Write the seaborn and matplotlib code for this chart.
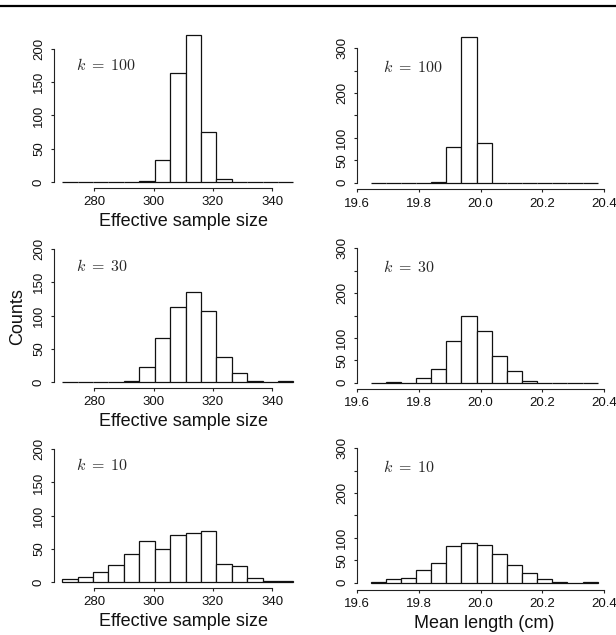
import numpy as np
import matplotlib
matplotlib.use('Agg')
import matplotlib.pyplot as plt
import seaborn as sns
from matplotlib.lines import Line2D

# ---- data: counts per histogram bin (15 equal bins per variable) ----
ess_counts_k100 = [0, 0, 0, 0, 0, 2, 33, 164, 221, 75, 5, 0, 0, 0, 0]
ess_counts_k30 = [0, 0, 0, 0, 2, 22, 66, 113, 135, 107, 38, 13, 2, 0, 1]
ess_counts_k10 = [4, 8, 15, 26, 42, 62, 50, 71, 74, 77, 27, 24, 6, 2, 2]

len_counts_k100 = [0, 0, 0, 0, 2, 80, 326, 88, 0, 0, 0, 0, 0, 0, 0]
len_counts_k30 = [0, 1, 0, 10, 31, 92, 150, 116, 60, 26, 3, 0, 0, 0, 0]
len_counts_k10 = [1, 7, 10, 27, 44, 81, 88, 83, 63, 39, 21, 8, 2, 0, 1]

k_labels = [r'$k\;=\;100$', r'$k\;=\;30$', r'$k\;=\;10$']
ess_range = (269.2, 347.1)
len_range = (19.643, 20.3795)
n_bins = 15

ess_ticks = [280, 300, 320, 340]
len_ticks = [19.6, 19.8, 20.0, 20.2, 20.4]
ess_yticks = [0, 50, 100, 150, 200]
len_yticks = [0, 50, 100, 150, 200, 250, 300]
len_ytick_labels = ['0', '50', '100', '', '200', '', '300']

xlabel_ess = 'Effective sample size'
xlabel_len = 'Mean length (cm)'
ylabel = 'Counts'

# ---- style ----
sns.set_theme(style='ticks')
plt.rcParams['font.family'] = ['Liberation Sans', 'DejaVu Sans']
plt.rcParams['mathtext.fontset'] = 'cm'

W, H = 616, 635
fig = plt.figure(figsize=(W / 100, H / 100), dpi=100)
AX_COLOR = '#222222'


def px_axes(left, right, top, bottom):
    return fig.add_axes([left / W, 1 - bottom / H, (right - left) / W, (bottom - top) / H])


def draw_hist(ax, counts, rng):
    edges = np.linspace(rng[0], rng[1], n_bins + 1)
    centers = (edges[:-1] + edges[1:]) / 2
    sns.histplot(x=list(centers), weights=list(counts), bins=list(edges), ax=ax,
                 color='white', edgecolor='#111111', linewidth=0.9, alpha=1,
                 legend=False)
    ax.set_xlabel('')
    ax.set_ylabel('')


def style_axes(ax, xb, yb, xticks, yticks, ylabels=None, xfmt=None):
    for s in ['top', 'right']:
        ax.spines[s].set_visible(False)
    for s in ['left', 'bottom']:
        ax.spines[s].set_color(AX_COLOR)
        ax.spines[s].set_linewidth(0.8)
    ax.spines['bottom'].set_bounds(*xb)
    ax.spines['left'].set_bounds(*yb)
    ax.set_xticks(xticks)
    if xfmt:
        ax.set_xticklabels([xfmt.format(t) for t in xticks])
    ax.set_yticks(yticks)
    if ylabels is not None:
        ax.set_yticklabels(ylabels)
    ax.tick_params(axis='both', direction='out', length=2.5, width=0.8,
                   color=AX_COLOR, labelsize=9.5, labelcolor='#111111')
    ax.tick_params(axis='x', pad=3.5)
    ax.tick_params(axis='y', pad=4, labelrotation=90)
    for lab in ax.get_yticklabels():
        lab.set_va('center')
    ax.grid(False)
    ax.set_facecolor('none')


ess_data = [ess_counts_k100, ess_counts_k30, ess_counts_k10]
len_data = [len_counts_k100, len_counts_k30, len_counts_k10]

# left column geometry (pixels)
l_left, l_right = 54, 310
l_base = [182, 382, 582]
l_spine = [187.7, 387.7, 587.7]
l_t200 = [49, 249, 449.3]
px_per_unit_ess = 2.967
ess_x280 = 94.3

# right column geometry (pixels)
r_left, r_right = 357.3, 610
r_base = [182.7, 382.7, 582.5]
r_spine = [189.3, 389, 590]
r_t300 = [48.3, 248.3, 448.3]
px_per_unit_len = 308.4

for r in range(3):
    top = 30 + 200 * r
    # ---- left: effective sample size ----
    ax = px_axes(l_left, l_right, top, l_spine[r])
    draw_hist(ax, ess_data[r], ess_range)
    sc = 200 / (l_base[r] - l_t200[r])
    ax.set_ylim(-(l_spine[r] - l_base[r]) * sc, (l_base[r] - top) * sc)
    ax.set_xlim(280 + (l_left - ess_x280) / px_per_unit_ess,
                280 + (l_right - ess_x280) / px_per_unit_ess)
    style_axes(ax, (280, 340), (0, 200), ess_ticks, ess_yticks)
    fig.text(76 / W, 1 - (65.5 + 200 * r) / H, k_labels[r], fontsize=11.5,
             ha='left', va='center')
    fig.text(183.5 / W, 1 - (221.7 + 200 * r) / H, xlabel_ess, fontsize=13,
             ha='center', va='center', color='#111111')

    # ---- right: mean length ----
    ax = px_axes(r_left, r_right, top, r_spine[r])
    draw_hist(ax, len_data[r], len_range)
    sc = 300 / (r_base[r] - r_t300[r])
    ax.set_ylim(-(r_spine[r] - r_base[r]) * sc, (r_base[r] - top) * sc)
    ax.set_xlim(19.6, 19.6 + (r_right - r_left) / px_per_unit_len)
    style_axes(ax, (19.6, 20.4), (0, 300), len_ticks, len_yticks,
               ylabels=len_ytick_labels, xfmt='{:.1f}')
    fig.text(383 / W, 1 - (66.5 + 200 * r) / H, k_labels[r], fontsize=11.5,
             ha='left', va='center')

fig.text(483.8 / W, 1 - 624 / H, xlabel_len, fontsize=13, ha='center',
         va='center', color='#111111')
fig.text(18 / W, 1 - 317 / H, ylabel, fontsize=13, ha='center', va='center',
         rotation=90, color='#111111')

# top rule
fig.add_artist(Line2D([0, 1], [1 - 6 / H, 1 - 6 / H], transform=fig.transFigure,
                      color='black', linewidth=1.6))

fig.savefig('out.png', dpi=100)
